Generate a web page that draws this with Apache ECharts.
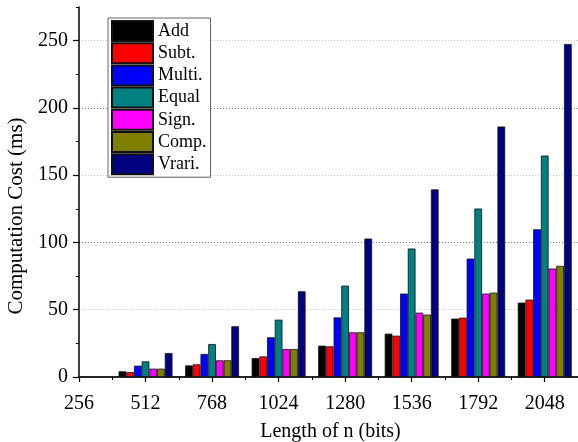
<!DOCTYPE html>
<html>
<head>
<meta charset="utf-8">
<script src="https://cdn.jsdelivr.net/npm/echarts@6/dist/echarts.min.js"></script>
<style>
  html, body { margin: 0; padding: 0; background: #fff; overflow: hidden; }
  #chart { width: 578px; height: 442px; }
</style>
</head>
<body>
<div id="chart"></div>
<script>
  // key lengths (bits)
  const sizes = [512, 768, 1024, 1280, 1536, 1792, 2048];

  // computation cost per operation (ms)
  const addCost = [4.2, 8.6, 14.1, 23.3, 32.2, 43.4, 55.3];
  const subtCost = [3.7, 9.4, 15.3, 22.8, 30.7, 44.1, 57.5];
  const multiCost = [8.4, 17.1, 29.5, 44.3, 62, 88, 109.8];
  const equalCost = [11.6, 24.5, 42.6, 67.9, 95.5, 125.2, 164.6];
  const signCost = [6.2, 12.4, 20.8, 33.2, 47.8, 62, 80.6];
  const compCost = [6.2, 12.4, 20.8, 33.2, 46.4, 62.7, 82.6];
  const vrariCost = [17.8, 37.7, 63.7, 102.9, 139.4, 186.2, 247.5];

  const xTicks = [256, 512, 768, 1024, 1280, 1536, 1792, 2048];
  const yTicks = [0, 50, 100, 150, 200, 250];

  const seriesData = [
    { label: 'Add', data: addCost, color: '#000000' },
    { label: 'Subt.', data: subtCost, color: '#ff0000' },
    { label: 'Multi.', data: multiCost, color: '#0000ff' },
    { label: 'Equal', data: equalCost, color: '#008080' },
    { label: 'Sign.', data: signCost, color: '#ff00ff' },
    { label: 'Comp.', data: compCost, color: '#808000' },
    { label: 'Vrari.', data: vrariCost, color: '#000080' },
  ];

  const FONT = 'Liberation Serif';
  const X_MIN = 256;
  const X_MAX = 2176;
  const Y_MAX = 275;

  const chart = echarts.init(document.getElementById('chart'));

  const option = {
    animation: false,
    backgroundColor: '#fff',
    textStyle: { fontFamily: FONT },
    grid: {
      left: 79,
      top: 7,
      right: 0,
      bottom: 65,
      outerBoundsMode: 'none',
      containLabel: false,
    },
    legend: {
      orient: 'vertical',
      left: 108,
      top: 18,
      icon: 'rect',
      itemWidth: 41,
      itemHeight: 20,
      itemGap: 0.2,
      backgroundColor: '#fff',
      borderColor: '#666',
      borderWidth: 1,
      padding: [2, 4, 2, 3],
      textStyle: { fontFamily: FONT, fontSize: 18, color: '#000' },
    },
    xAxis: [
      {
        type: 'value',
        position: 'bottom',
        min: X_MIN,
        max: X_MAX,
        interval: 256,
        name: 'Length of n (bits)',
        nameLocation: 'middle',
        nameGap: 45,
        nameTextStyle: { fontFamily: FONT, fontSize: 20, color: '#000', padding: [0, 0, 0, 4] },
        axisLine: { lineStyle: { color: '#000', width: 1.5 } },
        axisTick: { length: 5, customValues: xTicks, lineStyle: { color: '#000', width: 1.2 } },
        axisLabel: {
          fontFamily: FONT,
          fontSize: 20,
          color: '#000',
          margin: 17,
          customValues: xTicks,
          formatter: (v) => String(v),
        },
        splitLine: { show: false },
      },
      {
        // top frame line
        type: 'value',
        position: 'top',
        min: X_MIN,
        max: X_MAX,
        axisLine: { show: true, lineStyle: { color: '#222', width: 1.5 } },
        axisTick: { show: false },
        axisLabel: { show: false },
        splitLine: { show: false },
      },
      {
        // minor ticks every 128
        type: 'value',
        position: 'bottom',
        min: X_MIN,
        max: X_MAX,
        interval: 128,
        axisLine: { show: false },
        axisTick: { show: true, length: 3, lineStyle: { color: '#000', width: 1 } },
        axisLabel: { show: false },
        splitLine: { show: false },
      },
    ],
    yAxis: [
      {
        type: 'value',
        min: 0,
        max: Y_MAX,
        interval: 25,
        name: 'Computation Cost (ms)',
        nameLocation: 'middle',
        nameGap: 46,
        nameTextStyle: { fontFamily: FONT, fontSize: 21, color: '#000', padding: [0, 48, 0, 0] },
        axisLine: { show: true, lineStyle: { color: '#000', width: 1.5 } },
        axisTick: { show: true, length: 6, customValues: yTicks, lineStyle: { color: '#000', width: 1.2 } },
        axisLabel: {
          fontFamily: FONT,
          fontSize: 20,
          color: '#000',
          margin: 11,
          customValues: yTicks,
          formatter: (v) => String(v),
        },
        splitLine: {
          show: true,
          lineStyle: { color: ['#777', '#c4c4c4'], width: 1, type: [1, 2] },
        },
      },
      {
        // minor ticks every 25
        type: 'value',
        position: 'left',
        min: 0,
        max: Y_MAX,
        interval: 25,
        axisLine: { show: false },
        axisTick: { show: true, length: 3, lineStyle: { color: '#000', width: 1 } },
        axisLabel: { show: false },
        splitLine: { show: false },
      },
    ],
    series: seriesData.map((s) => ({
      name: s.label,
      type: 'bar',
      data: sizes.map((x, i) => [x, s.data[i]]),
      barWidth: 7.7,
      barGap: '0%',
      itemStyle: { color: s.color, borderColor: '#111', borderWidth: 0.8 },
    })),
  };

  chart.setOption(option);
</script>
</body>
</html>
